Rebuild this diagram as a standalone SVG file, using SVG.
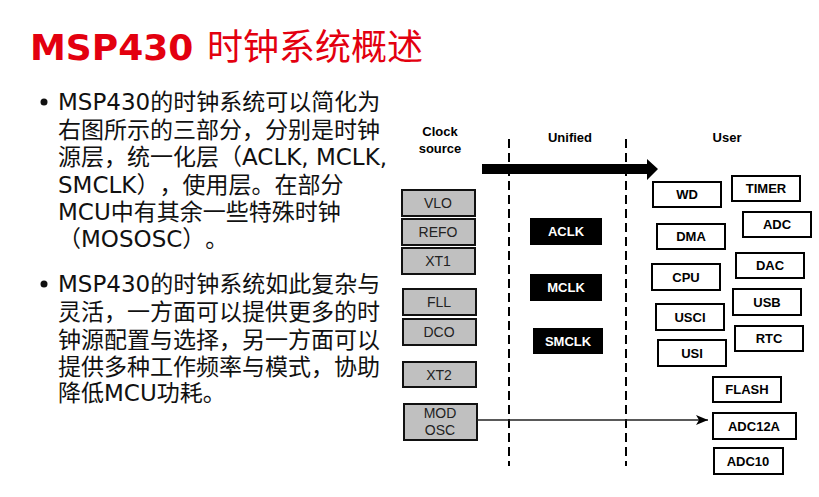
<svg xmlns="http://www.w3.org/2000/svg" width="819" height="497" viewBox="0 0 819 497">
<defs>
<style>
.title{font-family:"DejaVu Sans","Noto Sans CJK SC",sans-serif;font-size:36px;fill:#e3000f}
.body{font-family:"DejaVu Sans","Noto Sans CJK SC",sans-serif;font-size:23px;fill:#111;text-spacing-trim:space-all}
.hdr{font-family:"Liberation Sans",Arial,sans-serif;font-size:13px;font-weight:bold;fill:#000;text-anchor:middle}
.src rect{fill:#c0c0c0;stroke:#111;stroke-width:2}
.src text{font-family:"Liberation Sans",Arial,sans-serif;font-size:14px;fill:#222;text-anchor:middle}
.uni rect{fill:#000}
.uni text{font-family:"Liberation Sans",Arial,sans-serif;font-size:13px;font-weight:bold;fill:#fff;text-anchor:middle}
.usr rect{fill:#fff;stroke:#000;stroke-width:2}
.usr text{font-family:"Liberation Sans",Arial,sans-serif;font-size:13px;font-weight:bold;fill:#000;text-anchor:middle}
.div{stroke:#000;stroke-width:2;stroke-dasharray:9 5;fill:none}
</style>
<marker id="ah" viewBox="0 0 12 10" refX="12" refY="5" markerWidth="12" markerHeight="10" markerUnits="userSpaceOnUse" orient="auto">
<path d="M0,0 L12,5 L0,10 L3,5 Z" fill="#000"/>
</marker>
</defs>
<rect width="819" height="497" fill="#fff"/>
<text class="title" x="30" y="60"><tspan font-weight="bold">MSP430</tspan><tspan x="207">时钟系统概述</tspan></text>
<g id="bullets">
<circle cx="44" cy="102" r="3.5" fill="#111"/>
<text class="body" x="58" y="110">MSP430的时钟系统可以简化为</text>
<text class="body" x="58" y="138">右图所示的三部分，分别是时钟</text>
<text class="body" x="58" y="165">源层，统一化层（ACLK, MCLK,</text>
<text class="body" x="58" y="193">SMCLK），使用层。在部分</text>
<text class="body" x="58" y="220">MCU中有其余一些特殊时钟</text>
<text class="body" x="58" y="247">（MOSOSC）。</text>
<circle cx="44" cy="284" r="3.5" fill="#111"/>
<text class="body" x="58" y="292">MSP430的时钟系统如此复杂与</text>
<text class="body" x="58" y="320">灵活，一方面可以提供更多的时</text>
<text class="body" x="58" y="348">钟源配置与选择，另一方面可以</text>
<text class="body" x="58" y="375">提供多种工作频率与模式，协助</text>
<text class="body" x="58" y="401">降低MCU功耗。</text>
</g>
<g id="headers">
<text class="hdr" x="440" y="136">Clock</text>
<text class="hdr" x="440" y="153">source</text>
<text class="hdr" x="570" y="142">Unified</text>
<text class="hdr" x="727" y="142">User</text>
</g>
<g id="dividers">
<line class="div" x1="509" y1="139" x2="509" y2="466"/>
<line class="div" x1="626" y1="139" x2="626" y2="466"/>
</g>
<g id="sources" class="src">
<g id="vlo"><rect x="402" y="190" width="73" height="26"/><text x="438" y="208">VLO</text></g>
<g id="refo"><rect x="402" y="219" width="73" height="26"/><text x="438" y="237">REFO</text></g>
<g id="xt1"><rect x="402" y="248" width="73" height="26"/><text x="438" y="266">XT1</text></g>
<g id="fll"><rect x="403" y="289" width="73" height="26"/><text x="439" y="307">FLL</text></g>
<g id="dco"><rect x="403" y="319" width="73" height="26"/><text x="439" y="337">DCO</text></g>
<g id="xt2"><rect x="403" y="362" width="73" height="25"/><text x="439" y="380">XT2</text></g>
<g id="modosc"><rect x="404" y="404" width="73" height="36"/><text x="440" y="418">MOD</text><text x="440" y="435">OSC</text></g>
</g>
<g id="unified" class="uni">
<g id="aclk"><rect x="530" y="218" width="72" height="27"/><text x="566" y="236">ACLK</text></g>
<g id="mclk"><rect x="530" y="274" width="72" height="27"/><text x="566" y="292">MCLK</text></g>
<g id="smclk"><rect x="533" y="328" width="70" height="26"/><text x="568" y="346">SMCLK</text></g>
</g>
<g id="users" class="usr">
<g id="wd"><rect x="653" y="182" width="68" height="25"/><text x="687" y="199">WD</text></g>
<g id="timer"><rect x="732" y="176" width="68" height="25"/><text x="766" y="193">TIMER</text></g>
<g id="adc"><rect x="743" y="212" width="68" height="25"/><text x="777" y="229">ADC</text></g>
<g id="dma"><rect x="657" y="224" width="68" height="25"/><text x="691" y="241">DMA</text></g>
<g id="dac"><rect x="736" y="253" width="68" height="25"/><text x="770" y="270">DAC</text></g>
<g id="cpu"><rect x="652" y="264" width="68" height="26"/><text x="686" y="282">CPU</text></g>
<g id="usb"><rect x="733" y="289" width="68" height="26"/><text x="767" y="307">USB</text></g>
<g id="usci"><rect x="656" y="304" width="68" height="26"/><text x="690" y="322">USCI</text></g>
<g id="rtc"><rect x="735" y="326" width="68" height="25"/><text x="769" y="343">RTC</text></g>
<g id="usi"><rect x="658" y="340" width="68" height="26"/><text x="692" y="358">USI</text></g>
<g id="flash"><rect x="713" y="377" width="68" height="25"/><text x="747" y="394">FLASH</text></g>
<g id="adc12a"><rect x="713" y="413" width="83" height="26"/><text x="754" y="431">ADC12A</text></g>
<g id="adc10"><rect x="714" y="448" width="69" height="26"/><text x="748" y="466">ADC10</text></g>
</g>
<g id="connectors">
<polygon points="482,164 647,164 647,159 658,169 647,180 647,174 482,174" fill="#000"/>
<line x1="477" y1="420" x2="708" y2="420" stroke="#222" stroke-width="1.5" marker-end="url(#ah)"/>
</g>
</svg>
